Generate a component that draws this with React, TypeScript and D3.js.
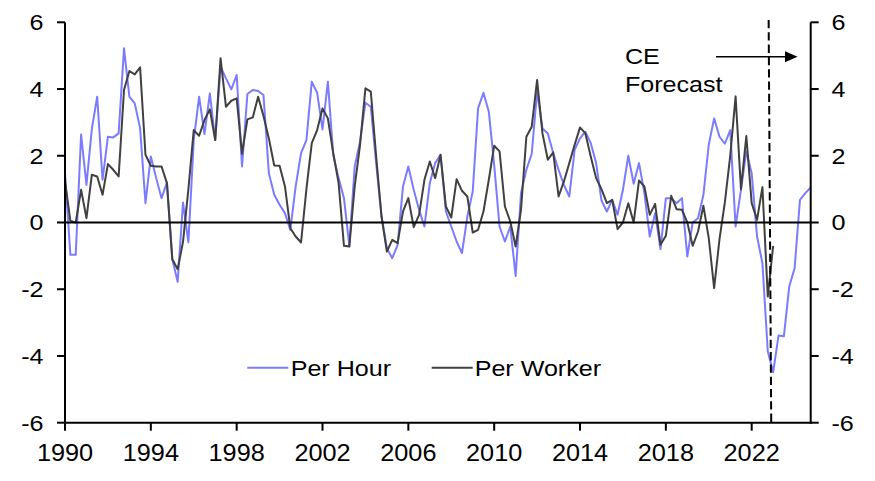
import React from 'react';
import * as d3 from 'd3';

const START_YEAR = 1990;
const END_YEAR = 2024.75;
const FORECAST_TOP_YEAR = 2022.79;
const FORECAST_BOTTOM_YEAR = 2022.91;

// Quarterly, 1990 Q1 onwards
const perHour = [
  1.5, -0.97, -0.97, 2.64, 1.13, 2.8, 3.77, 1.28, 2.57, 2.55,
  2.67, 5.22, 3.77, 3.57, 2.82, 0.58, 1.98, 1.33, 0.73, 1.2,
  -1.1, -1.78, 0.6, -0.59, 2.47, 3.77, 2.65, 3.87, 2.47, 4.67,
  4.32, 3.99, 4.42, 1.68, 3.85, 3.97, 3.94, 3.82, 1.48, 0.83,
  0.53, 0.28, -0.22, 1.08, 2.08, 2.47, 4.22, 3.89, 2.79, 4.22,
  2.03, 1.33, 0.73, -0.7, 1.68, 2.43, 3.59, 3.47, 1.78, 0.18,
  -0.77, -1.07, -0.67, 1.08, 1.68, 0.98, 0.38, -0.12, 1.18, 1.78,
  2.03, 0.33, -0.12, -0.57, -0.92, 0.18, 0.93, 3.42, 3.89, 3.32,
  1.73, -0.12, -0.57, -0.12, -1.6, 0.88, 1.58, 2.06, 3.92, 2.82,
  2.67, 2.08, 1.58, 1.13, 0.78, 2.18, 2.52, 2.72, 2.38, 1.78,
  0.66, 0.33, 0.68, 0.23, 0.98, 2.0, 1.16, 1.78, 0.88, -0.42,
  0.28, -0.8, 0.73, 0.73, 0.58, 0.73, -1.02, 0.0, 0.13, 0.83,
  2.33, 3.12, 2.57, 2.36, 2.77, -0.12, 0.98, 2.13, 1.48, -0.42,
  -1.22, -3.86, -4.49, -3.39, -3.41, -1.92, -1.37, 0.68, 0.88, 1.05,
];

const perWorker = [
  1.25, 0.05, 0.0, 0.98, 0.13, 1.43, 1.38, 0.83, 1.75, 1.58,
  1.38, 3.97, 4.54, 4.44, 4.65, 2.03, 1.7, 1.68, 1.68, 1.18,
  -1.1, -1.4, -0.58, 1.0, 2.77, 2.6, 3.07, 3.39, 2.47, 4.92,
  3.47, 3.65, 3.72, 2.06, 3.09, 3.15, 3.77, 3.19, 2.52, 1.71,
  1.7, 1.08, -0.17, -0.42, -0.6, 1.0, 2.38, 2.77, 3.42, 3.12,
  2.08, 1.18, -0.7, -0.72, 1.08, 2.33, 4.02, 3.92, 1.98, 0.18,
  -0.87, -0.52, -0.62, 0.33, 0.73, -0.14, 0.23, 1.28, 1.83, 1.33,
  2.03, 0.48, 0.15, 1.3, 0.95, 0.78, -0.3, -0.22, 0.33, 1.28,
  2.3, 2.13, 0.48, 0.03, -0.72, 0.38, 2.57, 2.87, 4.27, 2.67,
  1.88, 2.1, 0.78, 1.23, 1.78, 2.33, 2.85, 2.67, 1.98, 1.33,
  1.0, 0.58, 0.68, -0.2, 0.0, 0.58, 0.0, 1.26, 1.08, 0.23,
  0.56, -0.67, -0.4, 0.8, 0.4, 0.38, 0.0, -0.7, -0.27, 0.5,
  -0.47, -1.97, -0.5, 0.6, 2.0, 3.78, 1.0, 2.59, 0.58, 0.08,
  1.06, -2.22, -0.7,
];

const xTickYears = [1990, 1994, 1998, 2002, 2006, 2010, 2014, 2018, 2022];
const yTickValues = [-6, -4, -2, 0, 2, 4, 6];
const seriesNames = ['Per Hour', 'Per Worker'];
const seriesColors = ['#7b7bff', '#404040'];
const annotationLines = ['CE', 'Forecast'];

const FONT = '"Liberation Sans", Arial, sans-serif';

function T({ x, y, anchor = 'start', fs = 21, sx = 1.19, children }: any) {
  return (
    <text
      transform={`translate(${x},${y}) scale(${sx},1)`}
      textAnchor={anchor}
      fontFamily={FONT}
      fontSize={fs}
      fill="#000"
    >
      {children}
    </text>
  );
}

export default function App() {
  const W = 875;
  const H = 481;
  const left = 65;
  const right = 810.7;
  const top = 22.3;
  const bottom = 422.7;

  const x = d3.scaleLinear().domain([START_YEAR, END_YEAR]).range([left, right]);
  const y = d3.scaleLinear().domain([-6, 6]).range([bottom, top]);

  const line = d3
    .line<number>()
    .x((_, i) => x(START_YEAR + i * 0.25))
    .y((d) => y(d));

  const legendY = 367.7;

  return (
    <svg
      width={W}
      height={H}
      viewBox={`0 0 ${W} ${H}`}
      style={{ position: 'absolute', left: 0, top: 0, background: '#fff' }}
    >
      <rect x={0} y={0} width={W} height={H} fill="#fff" />

      {/* series */}
      <path d={line(perHour) || ''} fill="none" stroke={seriesColors[0]} strokeWidth={2} strokeLinejoin="round" />
      <path d={line(perWorker) || ''} fill="none" stroke={seriesColors[1]} strokeWidth={2} strokeLinejoin="round" />

      {/* zero line */}
      <line x1={left} x2={right} y1={y(0)} y2={y(0)} stroke="#000" strokeWidth={2} />

      {/* axes */}
      <line x1={left} x2={left} y1={top} y2={bottom + 1} stroke="#000" strokeWidth={2} />
      <line x1={right} x2={right} y1={top} y2={bottom + 1} stroke="#000" strokeWidth={2} />
      <line x1={left - 1} x2={right + 1} y1={bottom} y2={bottom} stroke="#000" strokeWidth={2} />

      {yTickValues.map((v) => (
        <g key={`yt${v}`}>
          <line x1={left - 8} x2={left} y1={y(v)} y2={y(v)} stroke="#000" strokeWidth={2} />
          <line x1={right} x2={right + 8} y1={y(v)} y2={y(v)} stroke="#000" strokeWidth={2} />
          <T x={43.5} y={y(v) + 7.8} anchor="end" fs={21.5} sx={1.17}>{String(v)}</T>
          <T x={831.5} y={y(v) + 7.8} anchor="start" fs={21.5} sx={1.17}>{String(v)}</T>
        </g>
      ))}

      {xTickYears.map((yr) => (
        <g key={`xt${yr}`}>
          <line x1={x(yr)} x2={x(yr)} y1={bottom} y2={bottom + 8} stroke="#000" strokeWidth={2} />
          <T x={x(yr)} y={461} anchor="middle" fs={23} sx={1.1}>{String(yr)}</T>
        </g>
      ))}

      {/* forecast divider */}
      <line
        x1={x(FORECAST_TOP_YEAR)}
        x2={x(FORECAST_BOTTOM_YEAR)}
        y1={20}
        y2={bottom}
        stroke="#000"
        strokeWidth={2}
        strokeDasharray="8.3,4"
      />
      <line x1={716} x2={788} y1={56.7} y2={56.7} stroke="#000" strokeWidth={1.5} />
      <polygon points="785,51.2 797.5,56.7 785,62.2" fill="#000" />
      <T x={625} y={64} fs={22}  sx={1.14}>{annotationLines[0]}</T>
      <T x={625} y={92} fs={22} sx={1.14}>{annotationLines[1]}</T>

      {/* legend */}
      <line x1={247.3} x2={288.3} y1={legendY} y2={legendY} stroke={seriesColors[0]} strokeWidth={2} />
      <T x={290.7} y={375.7} fs={22} sx={1.14}>{seriesNames[0]}</T>
      <line x1={431.7} x2={472.7} y1={legendY} y2={legendY} stroke={seriesColors[1]} strokeWidth={2} />
      <T x={474.7} y={375.7} fs={22} sx={1.14}>{seriesNames[1]}</T>
    </svg>
  );
}
